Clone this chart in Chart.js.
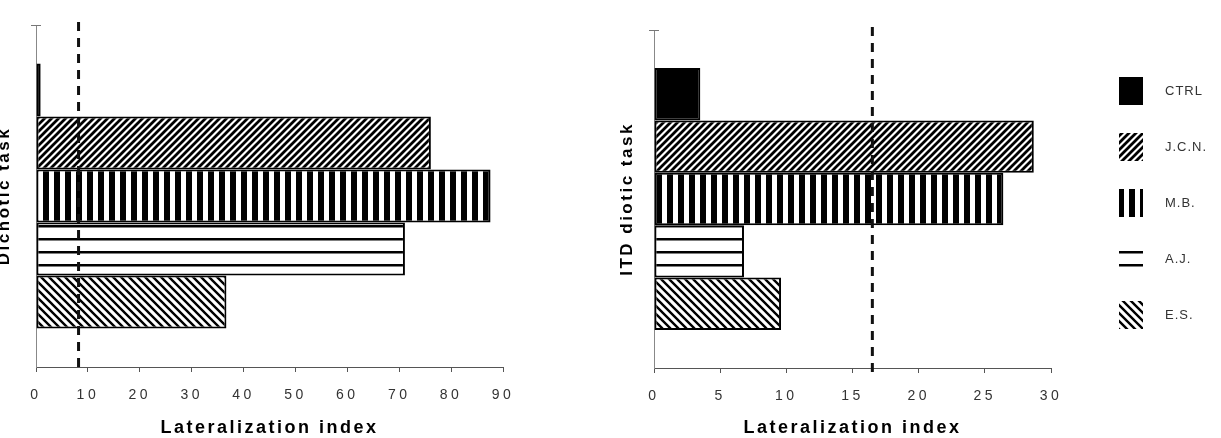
<!DOCTYPE html>
<html>
<head>
<meta charset="utf-8">
<script src="https://cdn.jsdelivr.net/npm/chart.js@4.4.1/dist/chart.umd.min.js"></script>
<style>
  html, body { margin: 0; padding: 0; background: #fff; overflow: hidden; }
  body { width: 1221px; height: 438px; position: relative; }
  canvas { position: absolute; top: 0; }
  #dichotic { left: -12px; }
  #itd { left: 590px; }
</style>
</head>
<body>
<canvas id="dichotic" width="560" height="438"></canvas>
<canvas id="itd" width="631" height="438"></canvas>
<script>
const subjects = ['CTRL', 'J.C.N.', 'M.B.', 'A.J.', 'E.S.'];
const fills = ['solid', 'diagUp', 'vertical', 'horizontal', 'diagDown'];

const dichoticValues = [0.9, 76.1, 87.6, 71.1, 36.7];
const dichoticCutoff = 8.2;
const dichoticTicks = [0, 10, 20, 30, 40, 50, 60, 70, 80, 90];

const itdValues = [3.5, 28.7, 26.4, 6.8, 9.6];
const itdCutoff = 16.5;
const itdTicks = [0, 5, 10, 15, 20, 25, 30];

// hatch fills like the old b/w print
function makeFill(kind) {
  if (kind == 'solid') return '#000';
  const c = document.createElement('canvas');
  const g = c.getContext('2d');
  if (kind == 'vertical') {
    c.width = 11; c.height = 4;
    g.fillStyle = '#fff'; g.fillRect(0, 0, 11, 4);
    g.fillStyle = '#000'; g.fillRect(0, 0, 6, 4);
  } else if (kind == 'horizontal') {
    c.width = 4; c.height = 13;
    g.fillStyle = '#fff'; g.fillRect(0, 0, 4, 13);
    g.fillStyle = '#000'; g.fillRect(0, 4, 4, 2.5);
  } else {
    const s = kind == 'diagUp' ? 7 : 8;
    c.width = s; c.height = s;
    g.fillStyle = '#fff'; g.fillRect(0, 0, s, s);
    g.strokeStyle = '#000';
    g.lineWidth = kind == 'diagUp' ? 2.8 : 2.4;
    g.beginPath();
    if (kind == 'diagUp') {
      g.moveTo(-1, s + 1); g.lineTo(s + 1, -1);
      g.moveTo(-1, 1); g.lineTo(1, -1);
      g.moveTo(s - 1, s + 1); g.lineTo(s + 1, s - 1);
    } else {
      g.moveTo(-1, -1); g.lineTo(s + 1, s + 1);
      g.moveTo(s - 1, -1); g.lineTo(s + 1, 1);
      g.moveTo(-1, s - 1); g.lineTo(1, s + 1);
    }
    g.stroke();
  }
  return g.createPattern(c, 'repeat');
}

function makeDatasets(values) {
  return subjects.map((name, i) => ({
    label: name,
    data: [values[i]],
    backgroundColor: makeFill(fills[i]),
    borderColor: '#000',
    borderWidth: 2,
    borderSkipped: false,
    barPercentage: 1,
    categoryPercentage: 0.775
  }));
}

// dashed cutoff line + top cap of y axis + spacing of the printed type
const printLook = {
  id: 'printLook',
  beforeDraw(chart) {
    chart.ctx.letterSpacing = '2.5px';
  },
  afterDatasetsDraw(chart, args, opts) {
    const ctx = chart.ctx;
    const x = chart.scales.x.getPixelForValue(opts.cutoff);
    const area = chart.chartArea;
    ctx.save();
    ctx.strokeStyle = '#111';
    ctx.lineWidth = 3;
    ctx.setLineDash([9, 7]);
    ctx.beginPath();
    ctx.moveTo(x, area.top - 3);
    ctx.lineTo(x, area.bottom + 5);
    ctx.stroke();
    ctx.setLineDash([]);
    ctx.lineWidth = 1;
    ctx.strokeStyle = '#777';
    ctx.beginPath();
    ctx.moveTo(area.left - 5, area.top + 0.5);
    ctx.lineTo(area.left + 5, area.top + 0.5);
    ctx.stroke();
    ctx.restore();
    ctx.letterSpacing = '3.5px';
  },
  afterDraw(chart, args, opts) {
    const ctx = chart.ctx;
    ctx.letterSpacing = '1px';
    if (!opts.legend) return;
    const L = opts.legend;
    ctx.save();
    ctx.font = '13px "Liberation Sans", Arial, sans-serif';
    ctx.textBaseline = 'middle';
    chart.data.datasets.forEach((ds, i) => {
      const cy = L.top + i * L.step;
      ctx.fillStyle = ds.backgroundColor;
      ctx.fillRect(L.left, cy - 14, 24, 28);
      ctx.fillStyle = '#333';
      ctx.fillText(ds.label, L.left + 46, cy);
    });
    ctx.restore();
  }
};

function makeChart(id, task, values, ticks, cutoff, cfg) {
  return new Chart(document.getElementById(id), {
    type: 'bar',
    data: { labels: [task], datasets: makeDatasets(values) },
    options: {
      indexAxis: 'y',
      responsive: false,
      animation: false,
      layout: { padding: { top: cfg.top, right: cfg.right, bottom: 0, left: 0 } },
      plugins: {
        legend: { display: false },
        tooltip: { enabled: false },
        printLook: { cutoff: cutoff, legend: cfg.legend }
      },
      scales: {
        x: {
          type: 'linear',
          min: ticks[0],
          max: ticks[ticks.length - 1],
          afterBuildTicks: s => { s.ticks = ticks.map(v => ({ value: v })); },
          afterFit: s => { s.height = cfg.xHeight; },
          grid: { drawOnChartArea: false, tickLength: 5, color: '#555' },
          border: { color: '#555', width: 1 },
          ticks: {
            autoSkip: false,
            maxRotation: 0,
            padding: 15,
            z: 1,
            color: '#333',
            font: { family: '"Liberation Sans", Arial, sans-serif', size: 14 }
          },
          title: {
            display: true,
            text: 'Lateralization index',
            color: '#000',
            padding: { top: 0, bottom: -1 },
            font: { family: '"Liberation Sans", Arial, sans-serif', size: 18, weight: 'bold' }
          }
        },
        y: {
          type: 'category',
          afterFit: s => { s.width = cfg.yWidth; },
          grid: { display: false },
          border: { color: '#888', width: 1 },
          ticks: { display: false },
          title: {
            display: true,
            text: task,
            color: '#000',
            padding: { top: cfg.titlePad, bottom: 0 },
            font: { family: '"Liberation Sans", Arial, sans-serif', size: 17, weight: 'bold' }
          }
        }
      }
    },
    plugins: [printLook]
  });
}

makeChart('dichotic', 'Dichotic task', dichoticValues, dichoticTicks, dichoticCutoff,
  { top: 25, right: 45, xHeight: 71, yWidth: 48, titlePad: 6, legend: null });

makeChart('itd', 'ITD diotic task', itdValues, itdTicks, itdCutoff,
  { top: 30, right: 170, xHeight: 70, yWidth: 64, titlePad: 27,
    legend: { left: 529, top: 91, step: 56 } });
</script>
</body>
</html>
